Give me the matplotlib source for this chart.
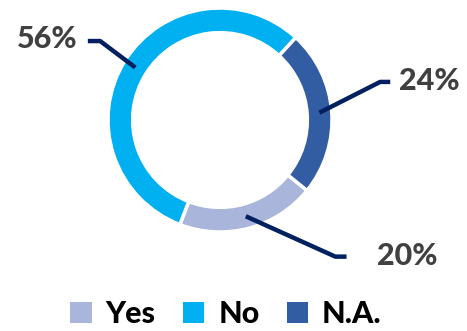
import matplotlib
matplotlib.use('Agg')
import matplotlib.pyplot as plt
from matplotlib.patches import Patch
import numpy as np

labels = ['Yes', 'No', 'N.A.']
shares = [20, 56, 24]
colors = ['#A9B5DA', '#00B0F0', '#335DA3']

# label placement per slice: elbow point, line end, text anchor (data units, ring radius = 1)
elbows = [(1.03, -1.22), (-1.07, 0.705), (1.43, 0.34)]
ends = [(1.13, -1.22), (-1.18, 0.705), (1.52, 0.34)]
text_pos = [(1.40, -1.21), (-1.27, 0.72), (1.60, 0.35)]
text_ha = ['left', 'right', 'left']

plt.rcParams['font.family'] = ['Lato', 'DejaVu Sans']

W, H = 467, 331
cx, cy, R = 220, 120, 112
fig = plt.figure(figsize=(W / 100, H / 100), dpi=100)
ax = fig.add_axes([0, 0, 1, 1])

start = -39
wedges, _ = ax.pie(shares, colors=colors, startangle=start, counterclock=False,
                   radius=1, wedgeprops=dict(width=0.22, edgecolor='white', linewidth=2.5))

ax.set_xlim(-cx / R, (W - cx) / R)
ax.set_ylim(-(H - cy) / R, cy / R)
ax.set_aspect('auto')
ax.axis('off')

# leader lines from the middle of each slice
ang = start
for i, s in enumerate(shares):
    mid = np.deg2rad(ang - s * 3.6 / 2)
    ang -= s * 3.6
    r = 0.89
    p0 = (r * np.cos(mid), r * np.sin(mid))
    xs = [p0[0], elbows[i][0], ends[i][0]]
    ys = [p0[1], elbows[i][1], ends[i][1]]
    ax.plot(xs, ys, color='#002060', linewidth=3.2, solid_capstyle='butt')
    ax.text(text_pos[i][0], text_pos[i][1], f'{s}%', ha=text_ha[i], va='center',
            fontsize=22, fontweight='black', color='#404040')

handles = [Patch(facecolor=c, edgecolor='none') for c in colors]
fig.legend(handles, labels, loc='center', bbox_to_anchor=(226 / W, 1 - 314 / H),
           ncol=3, frameon=False, prop=dict(size=22, weight='black'),
           handlelength=0.7, handleheight=0.7, handletextpad=0.45, columnspacing=0.9)

fig.savefig('out.png', dpi=100)
